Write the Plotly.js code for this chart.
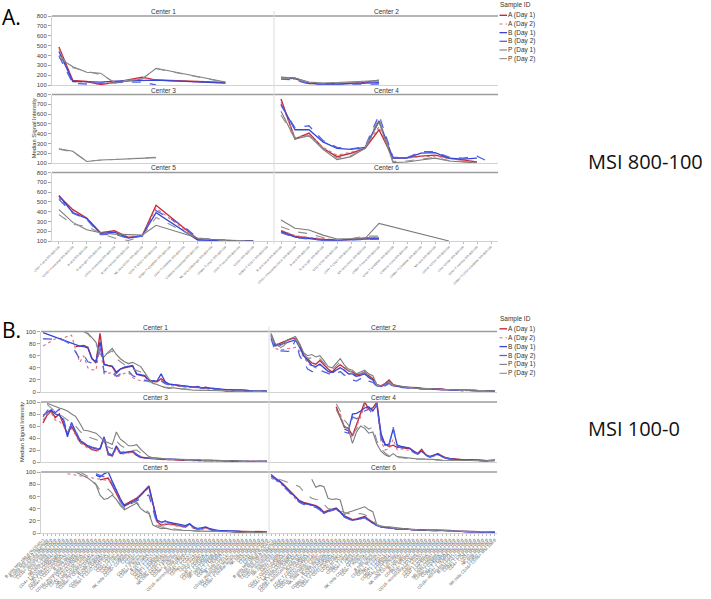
<!DOCTYPE html>
<html><head><meta charset="utf-8">
<script src="https://cdn.plot.ly/plotly-3.0.1.min.js"></script>
<style>html,body{margin:0;padding:0;background:#fff}#chart{width:711px;height:599px}</style>
</head><body><div id="chart"></div>
<script>
const _ = null;
// ---------- series ----------
const seriesNames = ['A (Day 1)','A (Day 2)','B (Day 1)','B (Day 2)','P (Day 1)','P (Day 2)'];
const centerNames = ['Center 1','Center 2','Center 3','Center 4','Center 5','Center 6'];

// ---------- categories ----------
const catsAL = ["CD3+ T cells MSI 800-100","CD16+ monocytes MSI 800-100","B cells MSI 800-100","B cells IgD+ MSI 800-100","CD16- monocytes MSI 800-100","B cells memory MSI 800-100","NK cells CD16+ MSI 800-100","CD4+ T CD27+ MSI 800-100","CD8a+ T CD45RA+ MSI 800-100","CD4+ T CD45RA- MSI 800-100","Classical monocytes MSI 800-100","NK cells CD56bright MSI 800-100","CD8a+ T CD27- MSI 800-100","CD4+ T naive MSI 800-100","CD14+ MSI 800-100","CD8a+ T CD27+ MSI 800-100"];
const catsAR = ["B cells naive MSI 800-100","CD16+ monocytes CD14- MSI 800-100","B cells MSI 800-100","B cells IgD- MSI 800-100","CD3+ CD4+ MSI 800-100","CD4+ T CD27- MSI 800-100","NK cells CD16- MSI 800-100","CD8a+ T naive MSI 800-100","CD4+ T CD45RA+ MSI 800-100","Classical mono MSI 800-100","CD8a+ T CD45RA- MSI 800-100","NK cells MSI 800-100","CD14+ CD16+ MSI 800-100","CD3- CD19+ MSI 800-100","CD4+ T memory MSI 800-100","CD8a+ T CD27+CD45RA- MSI 800-100"];
const catsBL = ["B cells MSI 100-0 (%CD45+)","B cells MSI 100-0 (%Lymph)","CD16- monocytes MSI 100-0","CD16+ monocytes MSI 100-0","CD3+ T cells MSI 100-0","NK cells CD16+ MSI 100-0","CD4+ T CD27+CD45RA+ MSI 100-0","NK cells CD56bright MSI 100-0","CD4+ T CD27+CD45RA- MSI 100-0","CD8a+ T CD27+CD45RA+ MSI 100-0","B cells IgD+ MSI 100-0","CD16+ monocytes CD14dim MSI 100-0","CD8a+ T CD27-CD45RA+ MSI 100-0","CD4+ T CD27-CD45RA- MSI 100-0","NK cells CD16- CD56+ MSI 100-0","CD16- monocytes CD14+ MSI 100-0","CD8a+ T CD27+CD45RA- MSI 100-0","B cells memory MSI 100-0","CD4+ T CD27-CD45RA+ MSI 100-0","CD8a+ T CD27-CD45RA- MSI 100-0","CD3+ CD4+ MSI 100-0","CD3+ CD8a+ MSI 100-0","CD4+ T naive MSI 100-0","CD8a+ T naive MSI 100-0","NK cells CD16+ CD56dim MSI 100-0","CD14+ MSI 100-0","CD16+ MSI 100-0","CD4+ T memory MSI 100-0","CD8a+ T memory MSI 100-0","B cells naive MSI 100-0","CD4+ T CD27+ MSI 100-0","CD8a+ T CD27+ MSI 100-0","CD4+ T CD45RA+ MSI 100-0","CD8a+ T CD45RA+ MSI 100-0","NK cells CD16+ CD56- MSI 100-0","CD4+ T effector MSI 100-0","CD8a+ T effector MSI 100-0","B cells IgD- MSI 100-0","CD16- monocytes CD14dim MSI 100-0","CD4+ T CD27- MSI 100-0","CD8a+ T CD27- MSI 100-0","CD3- CD19+ MSI 100-0","CD3- CD56+ MSI 100-0","CD4+ T CD45RA- MSI 100-0","CD8a+ T CD45RA- MSI 100-0","NK cells CD56dim MSI 100-0","CD4+ T TEMRA MSI 100-0","CD8a+ T TEMRA MSI 100-0","B cells CD27+ MSI 100-0","CD16+ monocytes CD14+ MSI 100-0","CD4+ T central memory MSI 100-0","CD8a+ T central memory MSI 100-0","NK cells MSI 100-0","CD3+ MSI 100-0","CD19+ MSI 100-0","CD45+ MSI 100-0"];
const catsBR = ["B cells MSI 100-0 (%CD45+)","B cells MSI 100-0 (%Lymph)","CD16+ monocytes MSI 100-0","CD16- monocytes MSI 100-0","NK cells CD16+ MSI 100-0","CD3+ T cells MSI 100-0","CD4+ T CD27+CD45RA- MSI 100-0","CD4+ T CD27+CD45RA+ MSI 100-0","NK cells CD56bright MSI 100-0","CD8a+ T CD27+CD45RA+ MSI 100-0","CD16+ monocytes CD14dim MSI 100-0","B cells IgD+ MSI 100-0","CD4+ T CD27-CD45RA- MSI 100-0","CD8a+ T CD27-CD45RA+ MSI 100-0","CD16- monocytes CD14+ MSI 100-0","NK cells CD16- CD56+ MSI 100-0","B cells memory MSI 100-0","CD8a+ T CD27+CD45RA- MSI 100-0","CD8a+ T CD27-CD45RA- MSI 100-0","CD4+ T CD27-CD45RA+ MSI 100-0","CD3+ CD8a+ MSI 100-0","CD3+ CD4+ MSI 100-0","CD8a+ T naive MSI 100-0","CD4+ T naive MSI 100-0","CD14+ MSI 100-0","NK cells CD16+ CD56dim MSI 100-0","CD4+ T memory MSI 100-0","CD16+ MSI 100-0","B cells naive MSI 100-0","CD8a+ T memory MSI 100-0","CD8a+ T CD27+ MSI 100-0","CD4+ T CD27+ MSI 100-0","CD8a+ T CD45RA+ MSI 100-0","CD4+ T CD45RA+ MSI 100-0","CD4+ T effector MSI 100-0","NK cells CD16+ CD56- MSI 100-0","B cells IgD- MSI 100-0","CD8a+ T effector MSI 100-0","CD4+ T CD27- MSI 100-0","CD16- monocytes CD14dim MSI 100-0","CD3- CD19+ MSI 100-0","CD8a+ T CD27- MSI 100-0","CD4+ T CD45RA- MSI 100-0","CD3- CD56+ MSI 100-0","NK cells CD56dim MSI 100-0","CD8a+ T CD45RA- MSI 100-0","CD8a+ T TEMRA MSI 100-0","CD4+ T TEMRA MSI 100-0","CD16+ monocytes CD14+ MSI 100-0","B cells CD27+ MSI 100-0","CD8a+ T CM MSI 100-0","CD4+ T CM MSI 100-0","CD3+ MSI 100-0","NK cells MSI 100-0","CD45+ MSI 100-0","NK cells CD16+ CD56+ MSI 100-0"];

// ---------- panel A values (MSI 800-100) ----------
const aC1_A1 = [485,145,135,105,125,150,180,150,_,_,_,_,125,_,_,_];
const aC1_A2 = [470,135,130,110,120,145,170,150,_,_,_,_,120,_,_,_];
const aC1_B1 = [440,135,135,130,140,145,150,150,_,_,_,_,120,_,_,_];
const aC1_B2 = [395,115,110,120,125,130,130,100,_,_,_,_,_,_,_,_];
const aC1_P1 = [375,285,230,220,120,140,160,270,_,_,_,_,130,_,_,_];
const aC1_P2 = [400,275,240,205,130,145,165,265,_,_,_,_,125,_,_,_];

const aC2_A1 = [170,165,115,110,112,118,125,150];
const aC2_A2 = [165,160,120,112,115,120,128,140];
const aC2_B1 = [175,170,120,110,110,115,120,125];
const aC2_B2 = [160,150,110,105,108,110,112,110];
const aC2_P1 = [180,170,130,120,125,130,135,145];
const aC2_P2 = [170,165,125,118,122,128,132,140];

const aC3_A1 = [];
const aC3_A2 = [];
const aC3_B1 = [];
const aC3_B2 = [];
const aC3_P1 = [245,220,115,130,135,140,150,155];
const aC3_P2 = [240,215,120,128,133,140,148,160];

const aC4_A1 = [755,345,405,250,165,200,250,440,150,155,170,180,150,130,110,_];
const aC4_A2 = [720,360,390,260,180,210,255,470,145,150,165,170,145,125,105,_];
const aC4_B1 = [700,440,440,315,250,240,260,530,150,150,200,205,150,140,150,_];
const aC4_B2 = [690,460,480,330,260,245,265,590,160,155,215,215,160,150,170,100];
const aC4_P1 = [630,345,380,240,135,165,250,520,105,110,130,150,120,110,100,_];
const aC4_P2 = [590,355,375,255,150,175,255,560,115,120,140,155,125,115,105,_];

const aC5_A1 = [560,420,335,185,205,137,152,465,_,_,120,110,105,102,100,_];
const aC5_A2 = [540,400,330,180,195,140,150,435,_,_,115,108,104,101,100,_];
const aC5_B1 = [565,390,330,175,190,130,155,390,_,_,110,108,103,101,100,_];
const aC5_B2 = [525,385,320,165,170,125,150,410,330,250,130,115,105,102,100,_];
const aC5_P1 = [420,290,215,185,170,165,160,260,_,_,130,115,105,102,100,_];
const aC5_P2 = [370,270,250,180,130,105,150,340,_,_,125,112,104,101,100,_];

const aC6_A1 = [205,150,130,115,110,115,130,130];
const aC6_A2 = [210,155,135,120,112,118,135,135];
const aC6_B1 = [195,140,125,110,110,115,120,125];
const aC6_B2 = [185,135,120,108,108,112,118,120];
const aC6_P1 = [315,230,213,160,120,120,125,280,_,_,_,_,100,_,_,_];
const aC6_P2 = [245,195,175,135,115,125,150,150];

// ---------- panel B values (MSI 100-0) ----------
const bC1_A1 = [_,_,_,_,_,_,_,_,75,76, 77,74,56,48,97,45,44,42,31,38, 40,42,43,29,28,26,18,18,17,22, 16,13,12,11,11,9,8,8,9,6, 7,6,5,5,4,4,4,3,3,3, 2,2,2,2,2,1];
const bC1_A2 = [76,80,84,88,88,89,92,94,70,49, 60,40,37,36,75,30,31,32,24,27, 31,32,24,20,19,18,19,16,18,20, 14,11,10,10,9,8,8,7,7,6, 5,5,4,4,3,3,3,3,2,2, 2,2,1,1,1,1];
const bC1_B1 = [98,_,_,_,_,_,_,_,_,76, 75,73,55,50,83,46,44,43,33,38, 41,42,44,30,29,27,19,19,18,30, 17,13,12,12,11,10,9,8,9,7, 8,6,6,5,5,4,4,4,3,3, 3,2,2,2,2,2];
const bC1_B2 = [88,88,88,88,87,86,82,78,66,55, 61,50,48,47,78,33,35,36,26,30, 34,35,27,24,22,20,17,17,16,18, 14,12,11,10,10,9,8,8,7,6, 6,5,5,4,4,4,3,3,3,2, 2,2,2,2,1,1];
const bC1_P1 = [_,_,_,_,_,_,_,_,_,_, 100,97,90,82,62,58,66,72,62,55, 50,47,49,46,42,32,22,15,12,9, 7,6,7,6,5,4,4,3,3,3, 2,2,2,2,2,1,1,1,1,1, 1,1,1,1,1,1];
const bC1_P2 = [_,_,_,_,_,_,_,_,_,_, 100,96,88,80,60,62,64,68,55,50, 45,40,38,36,33,25,18,14,11,9, 8,7,6,6,5,5,4,4,3,3, 3,2,2,2,2,2,1,1,1,1, 1,1,1,1,1,1];

const bC2_A1 = [95,78,80,83,86,88,89,78,62,55, 48,46,52,45,38,33,40,45,40,35, 33,28,30,33,27,22,12,10,14,20, 12,10,9,8,8,7,7,6,6,6, 5,5,5,4,4,4,3,3,3,3, 3,2,2,2,2,2];
const bC2_A2 = [90,72,70,70,72,72,74,68,58,48, 42,40,45,40,34,30,36,40,36,30, 29,25,27,30,24,20,11,9,12,17, 11,9,8,8,7,7,6,6,5,5, 5,4,4,4,4,3,3,3,3,2, 2,2,2,2,2,2];
const bC2_B1 = [93,76,78,80,82,84,86,74,60,52, 44,42,46,40,34,32,36,40,36,30, 30,26,28,30,24,20,10,9,12,16, 10,9,8,8,7,7,6,6,5,5, 5,4,4,4,3,3,3,3,3,2, 2,2,2,2,2,2];
const bC2_B2 = [88,68,68,67,67,68,88,60,48,38, 34,33,36,33,30,28,30,34,28,26, 20,18,22,24,18,16,9,8,10,14, 9,8,7,7,6,6,5,5,5,4, 4,4,4,3,3,3,3,2,2,2, 2,2,2,2,2,2];
const bC2_P1 = [97,80,75,80,86,89,92,80,65,60, 62,58,60,52,42,40,47,55,45,38, 36,30,33,36,30,27,12,10,12,18, 11,10,9,8,7,7,6,6,6,5, 5,5,4,4,4,3,3,3,3,2, 2,2,2,2,2,2];
const bC2_P2 = [94,74,72,76,82,85,88,76,62,56, 56,52,55,48,40,37,44,50,42,35, 33,28,30,33,28,24,11,9,11,16, 10,9,8,8,7,6,6,5,5,5, 4,4,4,4,3,3,3,3,2,2, 2,2,2,2,2,2];

const bC3_A1 = [65,78,85,74,80,62,46,60,48,34, 30,25,21,19,22,40,12,10,25,14, 15,16,17,11,8,7,6,6,5,5, 4,4,4,3,3,3,3,3,2,2, 3,2,2,2,2,1,1,1,1,1, 1,1,1,1,1,1];
const bC3_A2 = [70,80,82,70,68,60,50,56,45,32, 28,23,20,18,20,38,11,9,22,13, 14,15,16,10,7,6,6,5,5,4, 4,4,3,3,3,3,3,2,2,2, 2,2,2,2,1,1,1,1,1,1, 1,1,1,1,1,1];
const bC3_B1 = [78,82,87,80,78,70,42,66,50,36, 32,27,24,22,22,42,14,11,27,15, 16,17,18,12,8,7,7,6,6,5, 5,4,4,4,4,3,4,3,3,3, 3,2,2,2,2,2,2,2,2,1, 1,1,1,1,1,1];
const bC3_B2 = [75,85,92,82,88,72,48,64,52,38, 33,28,25,23,24,40,15,12,26,16, 17,18,18,13,9,8,7,6,6,5, 5,5,4,4,4,4,3,3,3,3, 3,2,2,2,2,2,2,2,1,1, 1,1,1,1,1,1];
const bC3_P1 = [_,98,95,92,90,88,85,80,76,65, 53,52,50,48,42,35,32,29,50,38, 33,27,27,29,21,15,9,7,7,6, 5,5,5,4,4,4,4,3,4,3, 3,3,2,2,2,2,2,2,2,1, 1,1,1,1,1,1];
const bC3_P2 = [_,96,90,84,80,75,70,66,60,52, 45,42,40,38,35,30,25,22,35,28, 24,20,19,20,15,10,7,6,5,5, 4,4,4,4,3,3,3,3,3,2, 2,2,2,2,2,2,1,1,1,1, 1,1,1,1,1,1];

const bC4_A1 = [_,_,_,_,_,_,_,_,_,_, _,_,_,_,_,_,92,75,58,56, 44,62,80,100,88,90,100,45,30,26, 28,24,25,23,23,18,14,21,12,9, 11,14,10,7,6,5,4,4,4,4, 3,3,3,2,2,3];
const bC4_A2 = [_,_,_,_,_,_,_,_,_,_, _,_,_,_,_,_,_,80,60,55, 40,60,75,95,85,88,95,35,20,22, 38,20,22,20,20,16,13,19,11,8, 10,12,9,6,5,5,4,4,3,3, 3,3,2,2,2,2];
const bC4_B1 = [_,_,_,_,_,_,_,_,_,_, _,_,_,_,_,_,_,_,55,52, 80,81,85,90,92,85,95,48,28,30, 55,28,26,24,23,17,14,18,12,9, 11,13,9,6,5,4,4,4,4,3, 3,3,2,2,2,3];
const bC4_B2 = [_,_,_,_,_,_,_,_,_,_, _,_,_,_,_,_,_,_,50,48, 75,72,78,85,88,80,98,40,25,28, 58,26,24,22,22,16,13,17,11,8, 10,12,8,6,5,4,4,3,3,3, 3,2,2,2,2,2];
const bC4_P1 = [_,_,_,_,_,_,_,_,_,_, _,_,_,_,_,_,88,75,60,55, 31,50,60,56,48,50,30,18,12,9, 14,9,8,7,7,6,5,5,5,4, 4,4,3,3,3,3,2,2,2,2, 2,2,2,2,2,2];
const bC4_P2 = [_,_,_,_,_,_,_,_,_,_, _,_,_,_,_,_,97,85,70,62, 45,55,65,60,55,58,35,22,15,10, 8,7,7,6,6,5,5,5,4,4, 4,3,3,3,3,3,2,2,2,2, 2,2,2,2,2,2];

const bC5_A1 = [_,_,_,_,_,_,_,_,_,_, _,_,_,_,87,88,90,78,65,52, 46,50,54,57,63,70,77,_,19,13, 14,15,14,13,12,10,15,8,6,7, 9,6,4,4,3,3,3,3,2,2, 2,2,2,2,2,2];
const bC5_A2 = [_,_,_,_,_,_,97,_,_,_, _,_,_,_,_,_,87,85,70,55, 42,48,52,58,62,68,74,_,14,12, 15,14,13,12,11,9,14,7,6,5, 9,6,4,3,3,3,3,2,2,2, 2,2,2,2,1,1];
const bC5_B1 = [_,_,_,_,_,_,_,_,_,_, _,_,_,95,92,97,100,85,70,56, 44,48,51,55,62,69,76,_,21,18, 19,17,16,15,14,12,15,10,7,8, 10,7,5,4,4,4,3,3,3,2, 2,2,2,2,2,2];
const bC5_B2 = [_,_,_,_,_,_,_,_,_,_, _,_,_,97,95,92,90,80,65,52, 42,46,50,53,56,60,62,_,15,16, 20,16,15,13,12,10,13,8,7,7, 9,5,4,4,3,3,3,3,2,2, 2,2,2,2,2,2];
const bC5_P1 = [_,_,_,_,_,_,_,_,100,97, 94,90,85,79,62,55,57,62,55,45, 38,42,46,49,40,35,32,13,10,7, 8,6,5,5,4,4,4,3,3,3, 3,2,2,2,2,2,2,1,1,1, 1,1,1,1,1,1];
const bC5_P2 = [_,_,_,_,_,_,_,_,_,100, 97,93,88,80,70,68,72,65,55,47, 40,45,50,51,42,38,34,16,12,10, 9,7,6,6,5,5,4,4,3,3, 3,3,2,2,2,2,2,2,1,1, 1,1,1,1,1,1];

const bC6_A1 = [93,90,86,80,73,66,59,53,50,48, 47,45,41,34,37,39,41,35,28,25, 22,23,25,27,22,17,13,10,9,9, 8,7,7,7,6,5,5,5,5,5, 5,5,4,4,4,3,3,3,2,2, 2,2,1,1,1,1];
const bC6_A2 = [90,87,83,77,70,63,56,51,48,46, 45,43,39,33,35,37,39,33,27,24, 21,22,24,25,21,16,12,10,9,8, 8,7,6,6,6,5,5,5,5,4, 4,4,4,3,3,3,3,2,2,2, 2,1,1,1,1,1];
const bC6_B1 = [96,91,85,79,72,65,58,52,49,47, 46,44,40,32,36,38,40,34,27,24, 21,22,24,26,21,16,13,10,9,9, 8,6,7,7,6,5,5,5,5,5, 5,5,4,4,4,3,3,3,2,2, 2,2,1,1,1,1];
const bC6_B2 = [94,89,83,77,70,63,56,50,47,45, 44,42,38,31,35,37,39,33,26,23, 20,21,23,25,20,15,12,10,9,8, 8,6,6,6,6,5,5,5,5,4, 4,4,4,4,3,3,3,2,2,2, 2,2,1,1,1,1];
const bC6_P1 = [_,_,_,_,_,_,_,_,_,_, 88,75,78,76,57,55,56,54,30,34, 36,38,40,43,38,35,13,11,10,10, 9,8,7,7,6,6,5,5,5,5, 4,4,4,4,3,3,3,3,3,2, 2,2,2,2,2,2];
const bC6_P2 = [_,_,88,86,84,82,79,76,68,62, 57,55,54,47,40,39,38,36,34,32, 30,31,32,30,26,20,14,11,10,9, 8,8,7,7,6,6,5,5,5,5, 4,4,4,4,3,3,3,3,2,2, 2,2,2,2,2,2];

const yTicksA = [100,200,300,400,500,600,700,800];
const yTicksB = [0,20,40,60,80,100];

// ---------- assembly ----------
const panelA = [
  [aC1_A1,aC1_A2,aC1_B1,aC1_B2,aC1_P1,aC1_P2],
  [aC2_A1,aC2_A2,aC2_B1,aC2_B2,aC2_P1,aC2_P2],
  [aC3_A1,aC3_A2,aC3_B1,aC3_B2,aC3_P1,aC3_P2],
  [aC4_A1,aC4_A2,aC4_B1,aC4_B2,aC4_P1,aC4_P2],
  [aC5_A1,aC5_A2,aC5_B1,aC5_B2,aC5_P1,aC5_P2],
  [aC6_A1,aC6_A2,aC6_B1,aC6_B2,aC6_P1,aC6_P2]];
const panelB = [
  [bC1_A1,bC1_A2,bC1_B1,bC1_B2,bC1_P1,bC1_P2],
  [bC2_A1,bC2_A2,bC2_B1,bC2_B2,bC2_P1,bC2_P2],
  [bC3_A1,bC3_A2,bC3_B1,bC3_B2,bC3_P1,bC3_P2],
  [bC4_A1,bC4_A2,bC4_B1,bC4_B2,bC4_P1,bC4_P2],
  [bC5_A1,bC5_A2,bC5_B1,bC5_B2,bC5_P1,bC5_P2],
  [bC6_A1,bC6_A2,bC6_B1,bC6_B2,bC6_P1,bC6_P2]];

const W = 711, H = 599;
const px = v => v / W;
const py = v => 1 - v / H;

const styleColor = ['#c42b3a','#d9737d','#3346d8','#5062e6','#7c7c7c','#8e8e8e'];
const styleDash  = ['solid','dot','solid','dash','solid','dash'];
const styleWidth = [1.4,1.1,1.3,1.3,1.1,1.1];

const panels = [
  {data: panelA, cats:[catsAL,catsAR], yr:[100,800], yt:yTicksA, xl:[52,274], xr:[274,498],
   rows:[[16,85],[94.5,163],[172.5,241]], tickSize:3, label:'A.', labelY:17,
   msi:'MSI 800-100', msiY:161, legY0:5, legStep:8.67, ytitleX:33.5},
  {data: panelB, cats:[catsBL,catsBR], yr:[0,100], yt:yTicksB, xl:[41,269], xr:[269,497],
   rows:[[331.5,392],[402,462],[472,533]], tickSize:4.2, label:'B.', labelY:330,
   msi:'MSI 100-0', msiY:428, legY0:318.5, legStep:8.9, ytitleX:22}
];

const traces = [];
const layout = {
  width: W, height: H, margin:{l:0,r:0,t:0,b:0,pad:0},
  paper_bgcolor:'#ffffff', plot_bgcolor:'rgba(0,0,0,0)', showlegend:false,
  font:{family:'Liberation Sans, Arial, sans-serif', color:'#333'},
  annotations:[], shapes:[]
};

panels.forEach((P, p) => {
  for (let c = 0; c < 6; c++) {
    const n = p*6 + c + 1;
    const suf = n === 1 ? '' : String(n);
    const col = c % 2, row = Math.floor(c/2);
    const cats = P.cats[col];
    const xr = col === 0 ? P.xl : P.xr;
    const yr = P.rows[row];
    layout['xaxis'+suf] = {
      domain:[px(xr[0]), px(xr[1])], anchor:'y'+suf, type:'category',
      categoryorder:'array', categoryarray:cats, range:[-0.5, cats.length-0.5],
      tickmode:'array', tickvals:cats, ticktext:cats,
      showticklabels: row === 2, tickangle:-45,
      tickfont:{size:P.tickSize, color:'#555'},
      ticks: row === 2 ? 'outside' : '', ticklen:2, tickcolor:'#bbb',
      showline:true, linecolor:'#d2d2d2', linewidth:1,
      showgrid:false, zeroline:false, fixedrange:true
    };
    layout['yaxis'+suf] = {
      domain:[py(yr[1]), py(yr[0])], anchor:'x'+suf, range:P.yr,
      tickmode:'array', tickvals:P.yt, showticklabels: col === 0,
      ticks: col === 0 ? 'outside' : '', ticklen:3, tickcolor:'#aaa',
      tickfont:{size:6, color:'#444'},
      showline: col === 0, linecolor:'#d2d2d2', linewidth:1,
      showgrid:false, zeroline:false, fixedrange:true
    };
    const series = P.data[c];
    series.forEach((vals, s) => {
      traces.push({
        type:'scatter', mode:'lines', name:seriesNames[s],
        x: cats.slice(0, vals.length), y: vals, connectgaps:true,
        xaxis:'x'+suf, yaxis:'y'+suf, hoverinfo:'skip',
        line:{color:styleColor[s], dash:styleDash[s], width:styleWidth[s]}
      });
    });
    layout.shapes.push({type:'line', xref:'x'+suf+' domain', yref:'y'+suf+' domain',
      x0:0, x1:1, y0:1, y1:1, line:{color:'#9c9c9c', width:1.5}});
    layout.annotations.push({text:centerNames[c], xref:'x'+suf+' domain', yref:'y'+suf+' domain',
      x:0.5, xanchor:'center', y:1, yanchor:'middle', yshift:4.5, showarrow:false,
      font:{size:6.5, color:'#333'}});
  }
  layout.shapes.push({type:'line', xref:'paper', yref:'paper',
    x0:px(P.xl[1]), x1:px(P.xl[1]), y0:py(P.rows[0][0]-5), y1:py(P.rows[2][1]+3),
    line:{color:'#dcdcdc', width:1}});
  layout.annotations.push({text:'Median Signal Intensity', xref:'paper', yref:'paper',
    x:px(P.ytitleX), xanchor:'center', y:py((P.rows[1][0]+P.rows[1][1])/2), yanchor:'middle',
    textangle:-90, showarrow:false, font:{size:5.8, color:'#333'}});
  layout.annotations.push({text:P.label, xref:'paper', yref:'paper', x:0, xanchor:'left',
    y:py(P.labelY), yanchor:'middle', showarrow:false,
    font:{family:'Open Sans, sans-serif', size:21, color:'#000'}});
  layout.annotations.push({text:P.msi, xref:'paper', yref:'paper', x:px(586), xanchor:'left',
    y:py(P.msiY), yanchor:'middle', showarrow:false,
    font:{family:'Open Sans, sans-serif', size:20, color:'#111'}});
  layout.annotations.push({text:'Sample ID', xref:'paper', yref:'paper', x:px(498), xanchor:'left',
    y:py(P.legY0), yanchor:'middle', showarrow:false, font:{size:6.5, color:'#333'}});
  seriesNames.forEach((nm, s) => {
    const yy = P.legY0 + 10.3 + s*P.legStep;
    layout.shapes.push({type:'line', xref:'paper', yref:'paper', x0:px(499.5), x1:px(507),
      y0:py(yy), y1:py(yy), line:{color:styleColor[s], dash:styleDash[s], width:styleWidth[s]}});
    layout.annotations.push({text:nm, xref:'paper', yref:'paper', x:px(506), xanchor:'left',
      y:py(yy), yanchor:'middle', showarrow:false, font:{size:6.5, color:'#333'}});
  });
});

Plotly.newPlot('chart', traces, layout, {staticPlot:true, displayModeBar:false});
</script></body></html>
